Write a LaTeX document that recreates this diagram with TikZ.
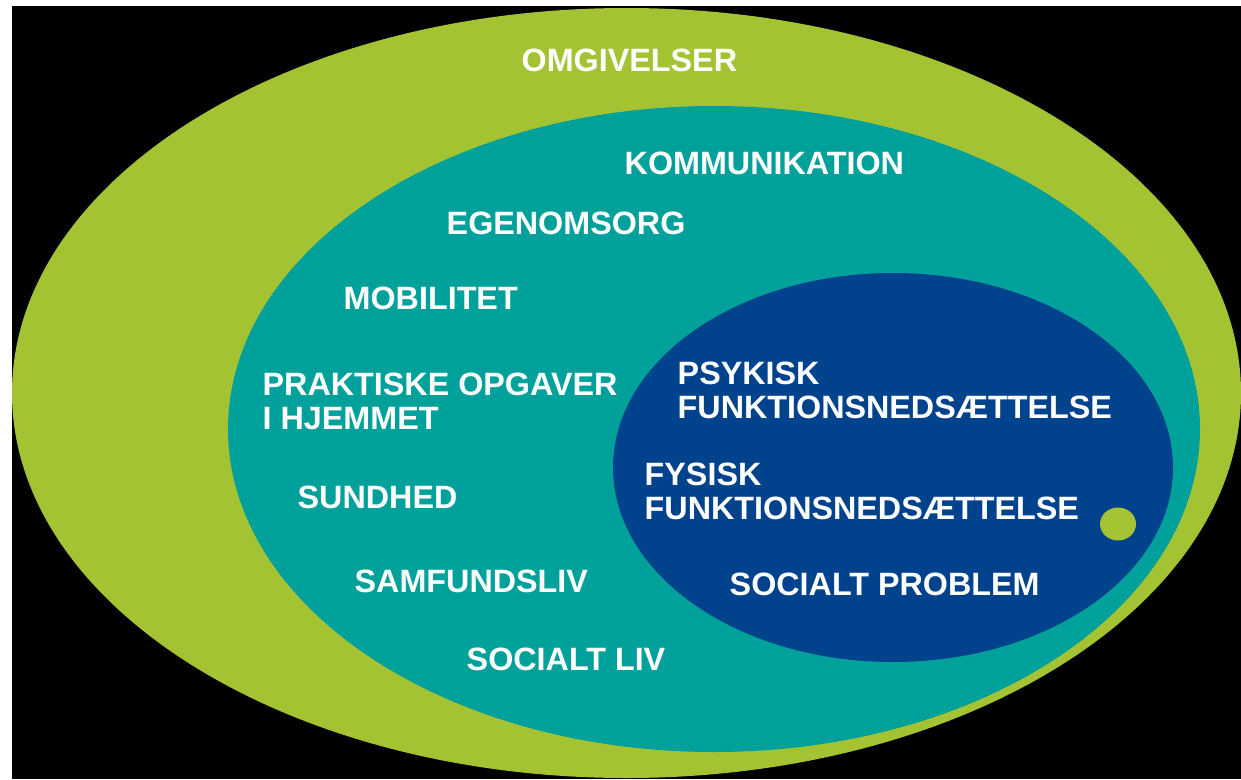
\documentclass[tikz,border=0pt]{standalone}
\usepackage{fontspec}
\setmainfont{Liberation Sans}
\usetikzlibrary{shapes.geometric}
\definecolor{lime}{RGB}{163,195,51}
\definecolor{tealc}{RGB}{0,161,154}
\definecolor{navy}{RGB}{1,66,140}
\tikzset{
  blob/.style={ellipse, inner sep=0pt, outer sep=0pt, draw=none},
  lbl/.style={text=white, font=\fontsize{32.3}{34}\selectfont\bfseries, inner sep=0pt, anchor=west, align=left}
}
\begin{document}
\begin{tikzpicture}[x=1pt,y=-1pt]
\useasboundingbox (0,0) rectangle (1241,779);
\fill[white] (0,0) rectangle (1241,779);
\fill[black] (12,6) rectangle (1241,779);
\node[blob, fill=lime, minimum width=1229pt, minimum height=770pt] (outer) at (626.5,393) {};
\node[blob, fill=tealc, minimum width=972pt, minimum height=646pt] (middle) at (714,429) {};
\node[blob, fill=navy, minimum width=560pt, minimum height=389pt] (inner) at (893,467.5) {};
\node[blob, fill=lime, minimum width=36pt, minimum height=33pt] (dot) at (1118,524) {};
\node[lbl] (omg) at (521.5,60) {OMGIVELSER};
\node[lbl] (kom) at (624.5,163) {KOMMUNIKATION};
\node[lbl] (ego) at (446.5,223) {EGENOMSORG};
\node[lbl] (mob) at (343.5,298) {MOBILITET};
\node[lbl] (prak) at (262.5,401) {PRAKTISKE OPGAVER\\I HJEMMET};
\node[lbl] (sund) at (297.5,497) {SUNDHED};
\node[lbl] (samf) at (354.5,581) {SAMFUNDSLIV};
\node[lbl] (socl) at (466.5,659) {SOCIALT LIV};
\node[lbl] (psyk) at (677.5,390) {PSYKISK\\FUNKTIONSNEDSÆTTELSE};
\node[lbl] (fys) at (644.5,491.5) {FYSISK\\FUNKTIONSNEDSÆTTELSE};
\node[lbl] (socp) at (729.5,584) {SOCIALT PROBLEM};
\end{tikzpicture}
\end{document}
